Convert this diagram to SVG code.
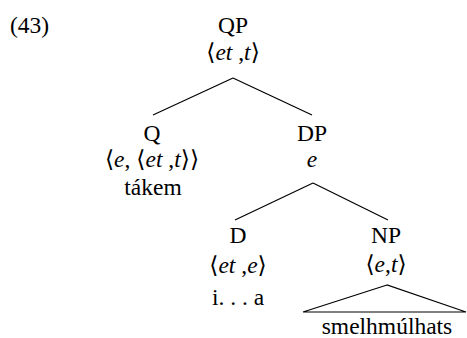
<svg xmlns="http://www.w3.org/2000/svg" width="467" height="338" viewBox="0 0 467 338">
<style>
.edge { stroke: #000; stroke-width: 1.2; fill: none; }
</style>
<rect width="467" height="338" fill="#fff"/>
<g font-family="Liberation Serif" font-size="23.5" fill="#000" text-anchor="middle">
<text x="10" y="33" text-anchor="start">(43)</text>
<g id="QP">
  <text x="233" y="33">QP</text>
  <text x="233" y="60"><tspan font-family="DejaVu Sans">⟨</tspan><tspan font-style="italic">et</tspan> ,<tspan font-style="italic">t</tspan><tspan font-family="DejaVu Sans">⟩</tspan></text>
</g>
<g id="Q">
  <text x="152" y="141">Q</text>
  <text x="152" y="167"><tspan font-family="DejaVu Sans">⟨</tspan><tspan font-style="italic">e</tspan>, <tspan font-family="DejaVu Sans">⟨</tspan><tspan font-style="italic">et</tspan> ,<tspan font-style="italic">t</tspan><tspan font-family="DejaVu Sans">⟩⟩</tspan></text>
  <text x="153" y="195">tákem</text>
</g>
<g id="DP">
  <text x="312" y="141">DP</text>
  <text x="312" y="167" font-style="italic">e</text>
</g>
<g id="D">
  <text x="238" y="243">D</text>
  <text x="238" y="273"><tspan font-family="DejaVu Sans">⟨</tspan><tspan font-style="italic">et</tspan> ,<tspan font-style="italic">e</tspan><tspan font-family="DejaVu Sans">⟩</tspan></text>
  <text x="238" y="305">i. . . a</text>
</g>
<g id="NP">
  <text x="386" y="243">NP</text>
  <text x="386" y="272"><tspan font-family="DejaVu Sans">⟨</tspan><tspan font-style="italic">e</tspan>,<tspan font-style="italic">t</tspan><tspan font-family="DejaVu Sans">⟩</tspan></text>
  <polygon class="edge" points="387,285 303,312 466,312"/>
  <text x="387" y="334">smelhmúlhats</text>
</g>
</g>
<g id="connectors">
  <line class="edge" x1="233" y1="78" x2="153" y2="115"/>
  <line class="edge" x1="233" y1="78" x2="312" y2="115"/>
  <line class="edge" x1="313" y1="183" x2="235" y2="220"/>
  <line class="edge" x1="313" y1="183" x2="388" y2="220"/>
</g>
</svg>
